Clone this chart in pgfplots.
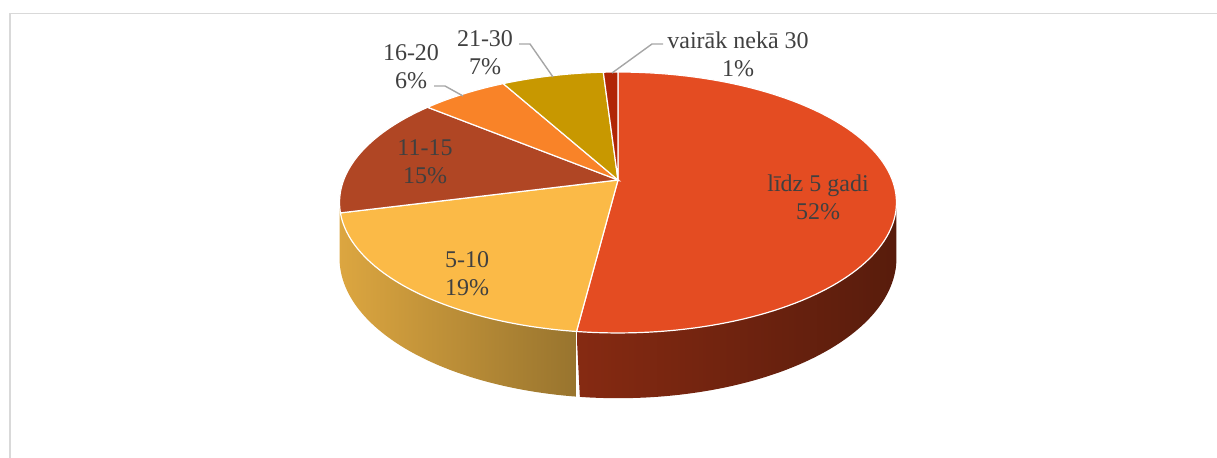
\documentclass[border=0pt]{standalone}
\usepackage{fontspec}
\setmainfont{Liberation Serif}
\usepackage{pgfplots}
\usepackage{pgfplotstable}
\pgfplotsset{compat=1.18}
\definecolor{c1}{RGB}{228,76,34}
\definecolor{c2}{RGB}{251,186,71}
\definecolor{c3}{RGB}{176,70,36}
\definecolor{c4}{RGB}{249,131,40}
\definecolor{c5}{RGB}{200,152,0}
\definecolor{c6}{RGB}{176,38,6}
\definecolor{w1l}{RGB}{134,42,18}
\definecolor{w1r}{RGB}{88,28,12}
\definecolor{w2l}{RGB}{220,166,64}
\definecolor{w2r}{RGB}{152,116,46}
\definecolor{txt}{RGB}{64,64,64}
\definecolor{lead}{RGB}{166,166,166}
\definecolor{framec}{RGB}{217,217,217}
\tikzset{lbl/.style={font=\fontsize{12}{14}\selectfont, text=txt, align=center, inner sep=0pt}}
\pgfplotstableread[col sep=comma]{
label,value
līdz 5 gadi,52
5-10,19
11-15,15
16-20,6
21-30,7
vairāk nekā 30,1
}\piedata
\begin{document}
\pgfplotstablegetelem{0}{value}\of\piedata\edef\vA{\pgfplotsretval}%
\pgfplotstablegetelem{1}{value}\of\piedata\edef\vB{\pgfplotsretval}%
\pgfplotstablegetelem{2}{value}\of\piedata\edef\vC{\pgfplotsretval}%
\pgfplotstablegetelem{3}{value}\of\piedata\edef\vD{\pgfplotsretval}%
\pgfplotstablegetelem{4}{value}\of\piedata\edef\vE{\pgfplotsretval}%
\pgfplotstablegetelem{5}{value}\of\piedata\edef\vF{\pgfplotsretval}%
\pgfmathsetmacro\aA{90}%
\pgfmathsetmacro\aB{\aA-3.6*\vA}%
\pgfmathsetmacro\aC{\aB-3.6*\vB}%
\pgfmathsetmacro\aD{\aC-3.6*\vC}%
\pgfmathsetmacro\aE{\aD-3.6*\vD}%
\pgfmathsetmacro\aF{\aE-3.6*\vE}%
\pgfmathsetmacro\aG{\aF-3.6*\vF}%
\pgfmathsetmacro\sR{-asin(0.1724)}%
\pgfmathsetmacro\sL{-180-\sR}%
\begin{tikzpicture}
\useasboundingbox (0,0) rectangle (608.5pt,229pt);
\begin{axis}[at={(0,0)}, anchor=south west, x=0.5pt, y=0.5pt,
  xmin=0, xmax=1217, ymin=0, ymax=458, y dir=reverse, hide axis, clip=false,
  declare function={
    D(\t)=1+0.1724*sin(\t);
    PX(\t)=618+274.3*cos(\t)/D(\t);
    PY(\t)=180-126.6*sin(\t)/D(\t);
    WT(\t,\a,\b)=(\t<=1) ? (\a+\t*(\b-\a)) : (\b-(\t-1)*(\b-\a));
    WO(\t,\a,\b)=(\t<=1) ? 0 : 54/D(WT(\t,\a,\b));
  },
]
% frame
\draw[framec, line width=0.8pt] (10,470) -- (10,13.5) -- (1230,13.5);
% side walls
\addplot[left color=w1l, right color=w1r, draw=none, domain=0:2, samples=301]
  ({PX(WT(x,\sR,\aB))},{PY(WT(x,\sR,\aB))+WO(x,\sR,\aB)}) -- cycle;
\addplot[left color=w2l, right color=w2r, draw=none, domain=0:2, samples=301]
  ({PX(WT(x,\aB,\sL))},{PY(WT(x,\aB,\sL))+WO(x,\aB,\sL)}) -- cycle;
\addplot[white, line width=0.6pt, domain=0:1, samples=2]
  ({PX(\aB)},{PY(\aB)+x*54/D(\aB)});
% top faces
\addplot[fill=c1, draw=white, line width=0.6pt, domain=\aB:\aA, samples=120] ({PX(x)},{PY(x)}) -- (618,180) -- cycle;
\addplot[fill=c2, draw=white, line width=0.6pt, domain=\aC:\aB, samples=60] ({PX(x)},{PY(x)}) -- (618,180) -- cycle;
\addplot[fill=c3, draw=white, line width=0.6pt, domain=\aD:\aC, samples=50] ({PX(x)},{PY(x)}) -- (618,180) -- cycle;
\addplot[fill=c4, draw=white, line width=0.6pt, domain=\aE:\aD, samples=25] ({PX(x)},{PY(x)}) -- (618,180) -- cycle;
\addplot[fill=c5, draw=white, line width=0.6pt, domain=\aF:\aE, samples=25] ({PX(x)},{PY(x)}) -- (618,180) -- cycle;
\addplot[fill=c6, draw=white, line width=0.6pt, domain=\aG:\aF, samples=8] ({PX(x)},{PY(x)}) -- (618,180) -- cycle;
% leader lines
\draw[lead, line width=0.7pt] (434,86) -- (445,86) -- (463,96);
\draw[lead, line width=0.7pt] (519,44) -- (530,44) -- (553,77);
\draw[lead, line width=0.7pt] (663,44) -- (652,44) -- (612,73);
% labels
\node[lbl] at (818,197) {līdz 5 gadi\\52\%};
\node[lbl] at (467,274) {5-10\\19\%};
\node[lbl] at (425,162) {11-15\\15\%};
\node[lbl] at (411,67) {16-20\\6\%};
\node[lbl] at (485,53) {21-30\\7\%};
\node[lbl] at (738,54) {vairāk nekā 30\\1\%};
\end{axis}
\end{tikzpicture}
\end{document}
